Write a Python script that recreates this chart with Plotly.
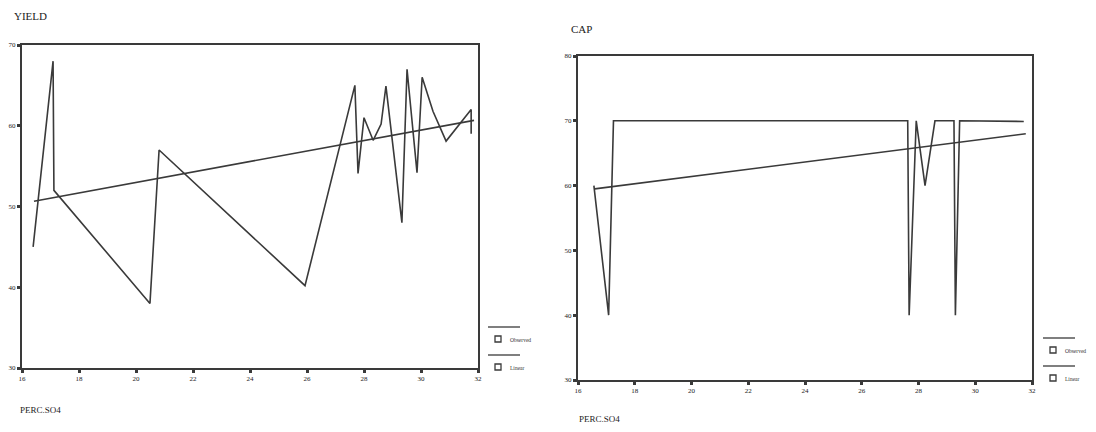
import plotly.graph_objects as go

# page is 1096x432; the browser's default body margin (8px) offsets the figure
OFF = 8
FW, FH = 1080, 416

# ---- Data: YIELD vs PERC.SO4 ----
yield_obs_x = [16.39, 17.09, 17.12, 20.49, 20.81, 25.93, 27.68, 27.79, 28.00, 28.32,
               28.60, 28.77, 29.33, 29.51, 29.86, 30.04, 30.42, 30.88, 31.76, 31.76]
yield_obs_y = [45.0, 68.0, 52.0, 38.0, 57.0, 40.2, 65.0, 54.1, 61.0, 58.2,
               60.2, 64.9, 48.0, 67.0, 54.2, 66.0, 61.8, 58.1, 62.0, 59.0]
yield_lin_x = [16.42, 31.86]
yield_lin_y = [50.65, 60.67]

# ---- Data: CAP vs PERC.SO4 ----
cap_obs_x = [16.56, 17.08, 17.25, 27.62, 27.67, 27.92, 28.23, 28.58, 29.25, 29.30, 29.45, 31.71]
cap_obs_y = [60.0, 40.0, 70.0, 70.0, 40.0, 70.0, 60.0, 70.0, 70.0, 40.0, 70.0, 69.9]
cap_lin_x = [16.59, 31.78]
cap_lin_y = [59.5, 68.0]

x_ticks = [16, 18, 20, 22, 24, 26, 28, 30, 32]
yield_ticks = [30, 40, 50, 60, 70]
cap_ticks = [30, 40, 50, 60, 70, 80]

LINE = "#3a3a3a"
FONT = "Liberation Serif"

def px(x):
    return (x - OFF) / FW

def py(y):
    return 1 - (y - OFF) / FH

fig = go.Figure()
fig.add_trace(go.Scatter(x=yield_obs_x, y=yield_obs_y, mode="lines",
                         line=dict(color=LINE, width=1.6), xaxis="x", yaxis="y",
                         name="Observed", showlegend=False))
fig.add_trace(go.Scatter(x=yield_lin_x, y=yield_lin_y, mode="lines",
                         line=dict(color=LINE, width=1.6), xaxis="x", yaxis="y",
                         name="Linear", showlegend=False))
fig.add_trace(go.Scatter(x=cap_obs_x, y=cap_obs_y, mode="lines",
                         line=dict(color=LINE, width=1.6), xaxis="x2", yaxis="y2",
                         name="Observed", showlegend=False))
fig.add_trace(go.Scatter(x=cap_lin_x, y=cap_lin_y, mode="lines",
                         line=dict(color=LINE, width=1.6), xaxis="x2", yaxis="y2",
                         name="Linear", showlegend=False))

axis_common = dict(showgrid=False, zeroline=False, showline=True, linecolor=LINE,
                   linewidth=2, mirror=True, ticks="outside", ticklen=3, tickwidth=3,
                   tickcolor=LINE, tickfont=dict(family=FONT, size=7, color="#222"))

fig.update_layout(
    width=FW, height=FH,
    margin=dict(l=0, r=0, t=0, b=0, autoexpand=False),
    paper_bgcolor="white", plot_bgcolor="white",
    showlegend=False,
    xaxis=dict(domain=[px(22), px(478)], range=[16, 32], tickvals=x_ticks,
               anchor="y", **axis_common),
    yaxis=dict(domain=[py(368), py(45)], range=[30, 70], tickvals=yield_ticks,
               anchor="x", **axis_common),
    xaxis2=dict(domain=[px(578), px(1032)], range=[16, 32], tickvals=x_ticks,
                anchor="y2", **axis_common),
    yaxis2=dict(domain=[py(380), py(56)], range=[30, 80], tickvals=cap_ticks,
                anchor="x2", **axis_common),
)

ann = []
ann.append(dict(text="YIELD", x=px(12), y=py(16), xref="paper", yref="paper",
                xanchor="left", yanchor="middle", showarrow=False,
                font=dict(family=FONT, size=11, color="#222")))
ann.append(dict(text="CAP", x=px(569), y=py(29), xref="paper", yref="paper",
                xanchor="left", yanchor="middle", showarrow=False,
                font=dict(family=FONT, size=11, color="#222")))
ann.append(dict(text="PERC.SO4", x=px(18), y=py(410), xref="paper", yref="paper",
                xanchor="left", yanchor="middle", showarrow=False,
                font=dict(family=FONT, size=9, color="#222")))
ann.append(dict(text="PERC.SO4", x=px(577), y=py(419), xref="paper", yref="paper",
                xanchor="left", yanchor="middle", showarrow=False,
                font=dict(family=FONT, size=9, color="#222")))

shapes = []
legend_specs = [(488, 327), (1043, 338)]
for (lx, ly) in legend_specs:
    for i, label in enumerate(["Observed", "Linear"]):
        yline = ly + i * 28
        shapes.append(dict(type="line", xref="paper", yref="paper",
                           x0=px(lx), x1=px(lx + 32), y0=py(yline), y1=py(yline),
                           line=dict(color=LINE, width=1.3)))
        sq = 12
        shapes.append(dict(type="rect", xref="paper", yref="paper",
                           x0=px(lx + 7), x1=px(lx + 13),
                           y0=py(yline + sq + 3), y1=py(yline + sq - 3),
                           line=dict(color=LINE, width=1.3), fillcolor="white"))
        ann.append(dict(text=label, x=px(lx + 20), y=py(yline + sq + 1),
                        xref="paper", yref="paper", xanchor="left", yanchor="middle",
                        showarrow=False, font=dict(family=FONT, size=5.5, color="#333")))

fig.update_layout(annotations=ann, shapes=shapes)

fig.write_html("out.html")
